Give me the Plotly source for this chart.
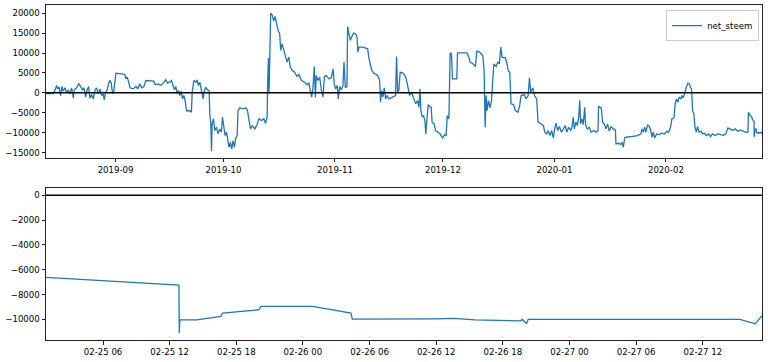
import plotly.graph_objects as go
import pandas as pd

timestamps = [
    "2019-08-12 15:36", "2019-08-14 16:00", "2019-08-15 04:00", "2019-08-15 15:00", "2019-08-15 21:00",
    "2019-08-16 08:00", "2019-08-16 17:00", "2019-08-17 02:00", "2019-08-17 11:00", "2019-08-17 22:00",
    "2019-08-18 09:00", "2019-08-18 20:00", "2019-08-19 07:00", "2019-08-19 18:00", "2019-08-20 06:00",
    "2019-08-20 12:00", "2019-08-21 04:00", "2019-08-21 19:00", "2019-08-22 07:00", "2019-08-22 18:00",
    "2019-08-23 05:00", "2019-08-23 16:00", "2019-08-24 01:00", "2019-08-24 12:00", "2019-08-24 21:00",
    "2019-08-25 08:00", "2019-08-25 19:00", "2019-08-26 06:00", "2019-08-26 17:00", "2019-08-27 04:00",
    "2019-08-27 16:00", "2019-08-28 03:00", "2019-08-28 14:00", "2019-08-28 20:00", "2019-08-29 05:00",
    "2019-08-29 16:00", "2019-08-30 01:00", "2019-08-30 10:00", "2019-08-30 19:00", "2019-08-31 04:00",
    "2019-08-31 13:00", "2019-09-01 02:00", "2019-09-02 16:00", "2019-09-03 14:00", "2019-09-03 21:00",
    "2019-09-04 06:00", "2019-09-04 15:00", "2019-09-04 23:30", "2019-09-05 22:00", "2019-09-06 16:00",
    "2019-09-07 03:00", "2019-09-07 18:00", "2019-09-08 07:00", "2019-09-08 21:00", "2019-09-09 10:00",
    "2019-09-10 13:00", "2019-09-11 15:00", "2019-09-12 00:00", "2019-09-12 20:00", "2019-09-13 12:00",
    "2019-09-14 06:00", "2019-09-14 23:00", "2019-09-15 11:00", "2019-09-15 22:00",
    "2019-09-16 02:00", "2019-09-16 13:00", "2019-09-17 00:00", "2019-09-17 09:00", "2019-09-17 18:00",
    "2019-09-18 03:00", "2019-09-18 12:00", "2019-09-18 21:00", "2019-09-19 06:00", "2019-09-19 14:00",
    "2019-09-19 23:00", "2019-09-20 08:00", "2019-09-20 15:00", "2019-09-20 21:00", "2019-09-21 15:00",
    "2019-09-22 02:00", "2019-09-22 07:00", "2019-09-22 18:00", "2019-09-23 07:00", "2019-09-23 16:00",
    "2019-09-24 01:00", "2019-09-24 10:00", "2019-09-24 21:00", "2019-09-25 08:00", "2019-09-25 17:00",
    "2019-09-26 02:00", "2019-09-26 13:00", "2019-09-27 00:00", "2019-09-27 05:00", "2019-09-27 11:00",
    "2019-09-27 16:00", "2019-09-27 20:00", "2019-09-28 05:00", "2019-09-28 14:00", "2019-09-29 01:00",
    "2019-09-29 12:00", "2019-09-29 23:00", "2019-09-30 10:00", "2019-09-30 17:00", "2019-10-01 02:00",
    "2019-10-01 11:00", "2019-10-01 20:00", "2019-10-02 05:00", "2019-10-02 13:00", "2019-10-02 22:00",
    "2019-10-03 07:00", "2019-10-03 16:00", "2019-10-04 01:00", "2019-10-04 10:00", "2019-10-04 19:00",
    "2019-10-05 01:00", "2019-10-05 12:00", "2019-10-06 11:00", "2019-10-07 05:00", "2019-10-07 16:00",
    "2019-10-08 03:00", "2019-10-08 12:00", "2019-10-09 01:00", "2019-10-09 17:00", "2019-10-10 08:00",
    "2019-10-10 21:00", "2019-10-11 13:00", "2019-10-12 05:00", "2019-10-12 16:00", "2019-10-13 03:00",
    "2019-10-13 07:00", "2019-10-13 12:00", "2019-10-13 16:00", "2019-10-13 21:00", "2019-10-14 03:00",
    "2019-10-14 14:00", "2019-10-14 23:00", "2019-10-15 08:00", "2019-10-15 17:00", "2019-10-16 04:00",
    "2019-10-16 15:00", "2019-10-16 22:00", "2019-10-17 07:00", "2019-10-17 18:00", "2019-10-18 05:00",
    "2019-10-18 16:00", "2019-10-19 03:00", "2019-10-19 14:00", "2019-10-20 04:00", "2019-10-20 19:00",
    "2019-10-21 11:00", "2019-10-22 00:00", "2019-10-22 16:00",
    "2019-10-23 14:00", "2019-10-24 05:00", "2019-10-24 18:00", "2019-10-25 03:00", "2019-10-25 12:00",
    "2019-10-25 21:00", "2019-10-26 06:00", "2019-10-26 13:00", "2019-10-26 19:00", "2019-10-27 06:00",
    "2019-10-27 18:00", "2019-10-28 05:00", "2019-10-28 16:00", "2019-10-29 01:00", "2019-10-29 14:00",
    "2019-10-30 08:00", "2019-10-30 23:30", "2019-10-31 11:00", "2019-10-31 19:00", "2019-11-01 04:00",
    "2019-11-01 15:00", "2019-11-01 22:00", "2019-11-02 07:00", "2019-11-02 18:00", "2019-11-03 05:00",
    "2019-11-03 12:00", "2019-11-03 21:00", "2019-11-04 08:00", "2019-11-04 12:00", "2019-11-04 21:00",
    "2019-11-05 06:00", "2019-11-05 15:00", "2019-11-06 04:00", "2019-11-06 18:00", "2019-11-07 03:00",
    "2019-11-07 09:00", "2019-11-07 16:00", "2019-11-08 18:00", "2019-11-10 02:00", "2019-11-10 11:00",
    "2019-11-10 19:00", "2019-11-11 06:00", "2019-11-11 18:00", "2019-11-12 12:00", "2019-11-13 01:00",
    "2019-11-13 10:00", "2019-11-13 16:00", "2019-11-13 23:00", "2019-11-14 08:00", "2019-11-14 17:00",
    "2019-11-15 02:00", "2019-11-15 11:00", "2019-11-16 00:00", "2019-11-16 15:00", "2019-11-17 07:00",
    "2019-11-17 20:00", "2019-11-18 03:00", "2019-11-18 10:00", "2019-11-18 18:00", "2019-11-19 03:00",
    "2019-11-19 21:00", "2019-11-20 15:00", "2019-11-21 00:00", "2019-11-21 09:00", "2019-11-21 18:00",
    "2019-11-22 07:00", "2019-11-22 20:00", "2019-11-23 10:00", "2019-11-23 23:00", "2019-11-24 08:00",
    "2019-11-24 15:00", "2019-11-24 21:00", "2019-11-25 06:00", "2019-11-25 15:00", "2019-11-26 00:00",
    "2019-11-26 06:00", "2019-11-26 13:00", "2019-11-26 22:00", "2019-11-27 12:00",
    "2019-11-27 18:00", "2019-11-28 00:00", "2019-11-28 14:00", "2019-11-28 23:00", "2019-11-29 14:00",
    "2019-11-30 06:00", "2019-11-30 15:00", "2019-11-30 23:30", "2019-12-01 11:00", "2019-12-01 22:00",
    "2019-12-02 05:00", "2019-12-02 16:00", "2019-12-03 00:30", "2019-12-03 09:00", "2019-12-03 16:00",
    "2019-12-04 21:00", "2019-12-05 01:30", "2019-12-07 16:00", "2019-12-08 05:00", "2019-12-08 14:00",
    "2019-12-09 08:00", "2019-12-10 01:30", "2019-12-10 10:00", "2019-12-11 04:00", "2019-12-11 15:00",
    "2019-12-12 02:00", "2019-12-12 11:00", "2019-12-12 18:00", "2019-12-13 00:30", "2019-12-13 07:00",
    "2019-12-13 16:00", "2019-12-14 03:00", "2019-12-14 12:00", "2019-12-14 21:00", "2019-12-15 04:00",
    "2019-12-15 19:00", "2019-12-16 06:00", "2019-12-16 17:00", "2019-12-17 02:00", "2019-12-17 11:00",
    "2019-12-18 09:00", "2019-12-18 20:00", "2019-12-19 05:00", "2019-12-19 14:00", "2019-12-19 23:00",
    "2019-12-20 15:00", "2019-12-21 04:00", "2019-12-21 20:00", "2019-12-22 07:00", "2019-12-22 18:00",
    "2019-12-23 16:00", "2019-12-24 03:00", "2019-12-24 17:00", "2019-12-25 01:30", "2019-12-25 10:00",
    "2019-12-25 23:30", "2019-12-26 11:00", "2019-12-27 02:00", "2019-12-27 11:00", "2019-12-28 07:00",
    "2019-12-28 23:00", "2019-12-29 08:00", "2019-12-29 21:00", "2019-12-30 06:00", "2019-12-30 19:00",
    "2019-12-31 06:00", "2019-12-31 17:00", "2020-01-01 02:00", "2020-01-01 11:00", "2020-01-01 22:00",
    "2020-01-02 09:00",
    "2020-01-02 23:00", "2020-01-03 12:00", "2020-01-04 01:00", "2020-01-04 10:00", "2020-01-04 23:00",
    "2020-01-05 13:00", "2020-01-05 22:00", "2020-01-06 06:00", "2020-01-06 13:00", "2020-01-07 00:00",
    "2020-01-07 09:00", "2020-01-07 18:00", "2020-01-08 01:00", "2020-01-08 07:00", "2020-01-08 16:00",
    "2020-01-09 01:00", "2020-01-09 10:00", "2020-01-09 17:00", "2020-01-10 04:00", "2020-01-10 17:00",
    "2020-01-11 06:00", "2020-01-12 00:00", "2020-01-12 13:00", "2020-01-13 03:00", "2020-01-13 07:00",
    "2020-01-14 01:00", "2020-01-14 10:00", "2020-01-14 23:00", "2020-01-15 08:00", "2020-01-15 19:00",
    "2020-01-16 06:00", "2020-01-16 18:00", "2020-01-17 09:00", "2020-01-17 23:00", "2020-01-18 03:00",
    "2020-01-18 21:00", "2020-01-19 10:00", "2020-01-19 19:00", "2020-01-20 04:00", "2020-01-20 13:00",
    "2020-01-20 22:00", "2020-01-22 07:00", "2020-01-24 03:00", "2020-01-25 01:00", "2020-01-25 08:00",
    "2020-01-25 17:00", "2020-01-26 02:00", "2020-01-26 11:00", "2020-01-26 22:00", "2020-01-27 09:00",
    "2020-01-27 18:00", "2020-01-28 03:00", "2020-01-28 12:00", "2020-01-28 21:00", "2020-01-29 10:00",
    "2020-01-30 04:00", "2020-01-30 22:00", "2020-01-31 15:00", "2020-02-01 05:00", "2020-02-01 18:00",
    "2020-02-02 07:00", "2020-02-02 16:00", "2020-02-03 06:00", "2020-02-03 14:00", "2020-02-03 23:00",
    "2020-02-04 08:00", "2020-02-04 17:00", "2020-02-05 04:00", "2020-02-05 11:00", "2020-02-05 20:00",
    "2020-02-06 07:00", "2020-02-06 18:00", "2020-02-07 03:00", "2020-02-07 12:00", "2020-02-07 21:00",
    "2020-02-08 03:00", "2020-02-08 10:00", "2020-02-08 19:00", "2020-02-09 02:00", "2020-02-09 11:00",
    "2020-02-09 19:00", "2020-02-10 06:00", "2020-02-10 18:00", "2020-02-11 05:00", "2020-02-11 18:00",
    "2020-02-12 07:00", "2020-02-12 21:00", "2020-02-13 10:00", "2020-02-13 23:00", "2020-02-14 17:00",
    "2020-02-15 11:00", "2020-02-16 05:00", "2020-02-16 23:00", "2020-02-17 16:00", "2020-02-18 06:00",
    "2020-02-18 19:00", "2020-02-19 13:00", "2020-02-20 06:00", "2020-02-21 00:00", "2020-02-21 18:00",
    "2020-02-22 12:00", "2020-02-23 06:00", "2020-02-23 19:00", "2020-02-23 23:00", "2020-02-24 10:00",
    "2020-02-24 22:00",
    "2020-02-25 00:52", "2020-02-25 12:50", "2020-02-25 12:52", "2020-02-25 12:55", "2020-02-25 14:26",
    "2020-02-25 16:37", "2020-02-25 16:45", "2020-02-25 20:04", "2020-02-25 20:12", "2020-02-26 00:52",
    "2020-02-26 04:19", "2020-02-26 04:27", "2020-02-26 12:00", "2020-02-26 13:33", "2020-02-26 15:30",
    "2020-02-26 19:35", "2020-02-26 19:45", "2020-02-26 20:08", "2020-02-26 20:17", "2020-02-27 15:20",
    "2020-02-27 16:44", "2020-02-27 17:20",
]

net_steem = [
    -170, -170, 750, 1840, 1000,
    1420, -670, 1590, 420, 1260,
    170, 750, -250, 1260, -1260,
    750, 1260, 2260, 1590, 750,
    1260, -1090, 590, 1590, -1340,
    -420, -1510, 590, 1260, -250,
    1000, -670, -250, -1760, 170,
    750, 2260, 3100, 2430, -250,
    590, 4940, 4770, 4610, 3520,
    3940, 2680, 1260, 1000, 1590,
    1000, 2260, 1260, 1590, 3100,
    2930, 2930, 2090, 2260, 1840,
    2430, 3270, 2430, 2680,
    2680, 3100, 1840, 750, 1590,
    -250, 590, -670, 420, -1510,
    -670, -1930, -4020, -4610, -4440,
    -4860, 170, 3100, 2680, 3270,
    1840, 2680, 590, -1510, 590,
    1420, 750, 590, -5700, -7370,
    -14660, -7790, -6530, -9460, -8630,
    -10300, -9050, -9880, -6110, -8630,
    -10720, -9880, -11980, -13650, -12400,
    -14070, -11980, -13650, -11310, -10720,
    -4440, -3770, -4020, -3770, -4440,
    -6530, -9050, -8210, -9050, -7960,
    -6530, -6950, -6530, -7620, -6110,
    3100, 8790, -250, 6870, 20020,
    19430, 18010, 19180, 17170, 15660,
    14820, 10640, 12310, 10640, 8960,
    7710, 8960, 6450, 5610, 5190,
    4100, 4610, 3100,
    2680, 2090, 2430, 590, -1090,
    1260, 6620, -1090, 4360, 3100,
    3940, 590, -1090, 4100, 4360,
    3520, 3770, 6030, 2260, 1000,
    1840, -1510, 1590, 750, 1840,
    7710, 1420, 1590, 16670, 14820,
    13150, 13990, 14990, 14820, 13990,
    10220, 11470, 11470, 11050, 8540,
    7290, 5610, 4940, 4610, 4100,
    3100, -2350, 590, -1090, 1260,
    -1510, -670, -1510, -1260, -1090,
    -670, 9130, 170, 590, 5190,
    4940, 4100, 2680, 590, -670,
    170, -1510, -2760, -1930, -3600,
    1000, -4440, -6110, -5700, -6950,
    -10300, -6950, -2930, -3600,
    -3600, -7370, -7790, -9460, -9880,
    -10300, -10970, -11310, -10470, -10640,
    -5700, -6530, 10050, 9800, 3520,
    3520, 10050, 10050, 8960, 7710,
    7290, 6620, 10470, 10220, 9800,
    9380, 5610, -8630, -670, -4440,
    -1930, -3770, -1930, 2680, 7290,
    6620, 7710, 7290, 11470, 8960,
    8790, 7290, 5440, 5190, -2760,
    -2930, -4440, -4860, -3430, -670,
    -420, -1510, -670, 3770, 170,
    1260, -670, -1510, -7370, -7790,
    -8210, -9880, -10300, -9460, -10720,
    -9460, -11310, -9050, -7620, -9460,
    -8460,
    -9880, -9050, -8210, -9880, -8630,
    -9460, -8460, -6110, -9050, -7370,
    -8210, -6110, -1930, -7790, -6530,
    -7960, -3600, -8210, -9050, -8630,
    -9880, -9460, -9880, -9460, -3430,
    -3770, -7370, -7960, -9050, -7790,
    -9630, -8460, -9050, -9300, -12810,
    -12650, -12980, -12400, -13650, -11310,
    -11140, -10970, -10720, -10300, -9050,
    -9880, -8630, -9880, -7960, -8400,
    -9300, -11140, -9880, -11310, -10300,
    -10470, -10130, -10300, -9630, -9880,
    -8630, -6530, -6280, -2760, -1510,
    -2350, -1090, -1510, -670, -1260,
    590, 1590, 2430, 2260, 1260,
    1000, -4440, -5280, -8630, -9880,
    -8460, -9880, -9630, -10300, -10130,
    -10720, -10300, -10970, -10300, -10720,
    -10300, -10470, -10640, -10300, -8790,
    -9050, -9460, -9050, -9630, -9300,
    -9630, -9880, -9880, -4860, -5700,
    -6110,
    -6620, -7240, -11100, -10030, -10030,
    -9760, -9490, -9220, -8950, -8950,
    -9490, -9970, -9950, -9920, -10030,
    -10110, -10000, -10320, -10000, -10000,
    -10350, -9700,
]

top_range = ["2019-08-12 15:36", "2020-02-27 17:20"]
zoom_range = ["2020-02-25 00:52", "2020-02-27 17:20"]

df = pd.DataFrame({"t": pd.to_datetime(timestamps), "v": net_steem})
recent = df[df["t"] >= pd.Timestamp(zoom_range[0])]

BLUE = "#1f77b4"
FONT = dict(family="DejaVu Sans", size=8.6, color="black")

fig = go.Figure()
fig.add_trace(go.Scatter(x=df["t"], y=df["v"], mode="lines", name="net_steem",
                         line=dict(color=BLUE, width=1.3), xaxis="x", yaxis="y"))
fig.add_trace(go.Scatter(x=recent["t"], y=recent["v"], mode="lines", name="net_steem",
                         showlegend=False, line=dict(color=BLUE, width=1.3),
                         xaxis="x2", yaxis="y2"))

axis_common = dict(showline=True, mirror=True, linecolor="#222", linewidth=1,
                   ticks="outside", ticklen=3.5, tickwidth=0.8, tickcolor="#222",
                   showgrid=False, zeroline=False, tickfont=FONT)

fig.update_layout(
    width=768, height=362,
    margin=dict(l=46, r=6, t=5, b=22),
    paper_bgcolor="white", plot_bgcolor="white",
    font=FONT,
    xaxis=dict(domain=[0, 1], anchor="y", type="date", range=top_range,
               tickformat="%Y-%m", dtick="M1", tick0="2019-09-01", **axis_common),
    yaxis=dict(domain=[0.5433, 1], anchor="x", range=[-16345, 22045],
               tickmode="array", tickvals=[-15000, -10000, -5000, 0, 5000, 10000, 15000, 20000],
               ticktext=["\u221215000", "\u221210000", "\u22125000", "0", "5000", "10000", "15000", "20000"],
               **axis_common),
    xaxis2=dict(domain=[0, 1], anchor="y2", type="date", range=zoom_range,
                tickformat="%m-%d %H", dtick=6 * 3600 * 1000, tick0="2020-02-25 06:00",
                **axis_common),
    yaxis2=dict(domain=[0, 0.4528], anchor="x2", range=[-11655, 555],
                tickmode="array", tickvals=[-10000, -8000, -6000, -4000, -2000, 0],
                ticktext=["\u221210000", "\u22128000", "\u22126000", "\u22124000", "\u22122000", "0"],
                **axis_common),
    legend=dict(x=0.996, y=0.985, xanchor="right", yanchor="top",
                bgcolor="rgba(255,255,255,0.8)", bordercolor="#cccccc", borderwidth=1,
                font=dict(family="DejaVu Sans", size=8.6, color="black")),
    shapes=[
        dict(type="line", xref="x domain", yref="y", x0=0, x1=1, y0=0, y1=0,
             line=dict(color="black", width=1.5)),
        dict(type="line", xref="x2 domain", yref="y2", x0=0, x1=1, y0=0, y1=0,
             line=dict(color="black", width=1.5)),
    ],
)

fig.write_html("out.html")
